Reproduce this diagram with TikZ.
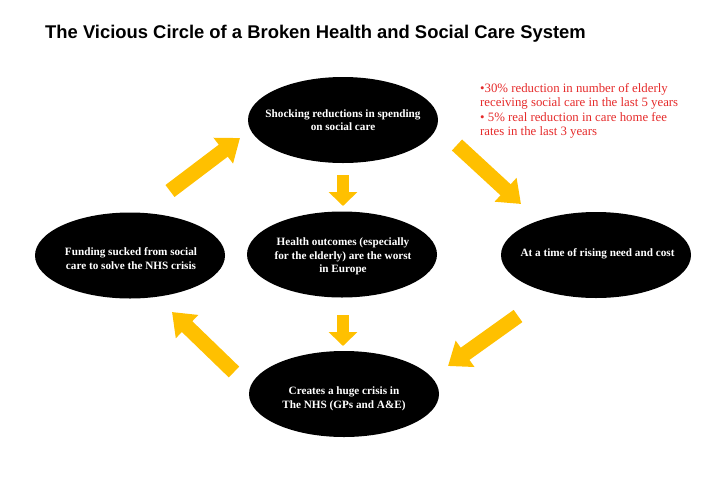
\documentclass[tikz,border=0pt]{standalone}
\usepackage{fontspec}
\setmainfont{Liberation Serif}
\newfontfamily\titlefont{Liberation Sans}
\usetikzlibrary{arrows.meta,shapes.geometric}
\definecolor{arrowyellow}{HTML}{FFC000}
\definecolor{notered}{HTML}{E52A2A}
\tikzset{
  blob/.style={ellipse, fill=black, minimum width=190pt, minimum height=86pt, inner sep=0pt},
  blobtext/.style={text=white, font=\bfseries\fontsize{11.2}{13.5}\selectfont, align=center, inner sep=0pt},
  bigarrow/.style={draw=arrowyellow, line width=15pt, line cap=butt,
    -{Triangle[width=31pt,length=21pt]}},
  smallarrow/.style={draw=arrowyellow, line width=12pt, line cap=butt,
    -{Triangle[width=28pt,length=14pt]}},
}
\begin{document}
\begin{tikzpicture}[x=1pt,y=-1pt]
\useasboundingbox (0,0) rectangle (720,499);
\node[anchor=west, inner sep=0pt, font=\titlefont\bfseries\fontsize{18.4}{22}\selectfont] (title) at (45,33.5)
  {The Vicious Circle of a Broken Health and Social Care System};
\node[blob] (top) at (343,120) {};
\node[blob] (left) at (130,255.5) {};
\node[blob] (mid) at (342,254.5) {};
\node[blob] (right) at (596,255) {};
\node[blob] (bot) at (344,394) {};
\node[blobtext] (toptxt) at (343,120) {Shocking reductions in spending\\on social care};
\node[blobtext] (lefttxt) at (131,258.5) {Funding sucked from social\\care to solve the NHS crisis};
\node[blobtext] (midtxt) at (343,256.5) {Health outcomes (especially\\for the elderly) are the worst\\in Europe};
\node[blobtext] (righttxt) at (597.5,254) {At a time of rising need and cost};
\node[blobtext] (bottxt) at (344,399) {Creates a huge crisis in\\The NHS (GPs and A\&E)};
\node[anchor=north west, text=notered, align=left, font=\fontsize{12.8}{14.4}\selectfont, inner sep=0pt] (note) at (480,83)
  {•30\% reduction in number of elderly\\receiving social care in the last 5 years\\• 5\% real reduction in care home fee\\rates in the last 3 years};
\coordinate (a1s) at (170,191); \coordinate (a1e) at (240,138);
\coordinate (a2s) at (457,145); \coordinate (a2e) at (521,204);
\coordinate (a3s) at (518,316); \coordinate (a3e) at (448,366);
\coordinate (a4s) at (234,372); \coordinate (a4e) at (172,312);
\coordinate (s1s) at (343,175); \coordinate (s1e) at (343,206);
\coordinate (s2s) at (343,315); \coordinate (s2e) at (343,346);
\draw[bigarrow] (a1s) -- (a1e);
\draw[bigarrow] (a2s) -- (a2e);
\draw[bigarrow] (a3s) -- (a3e);
\draw[bigarrow] (a4s) -- (a4e);
\draw[smallarrow] (s1s) -- (s1e);
\draw[smallarrow] (s2s) -- (s2e);
\end{tikzpicture}
\end{document}
